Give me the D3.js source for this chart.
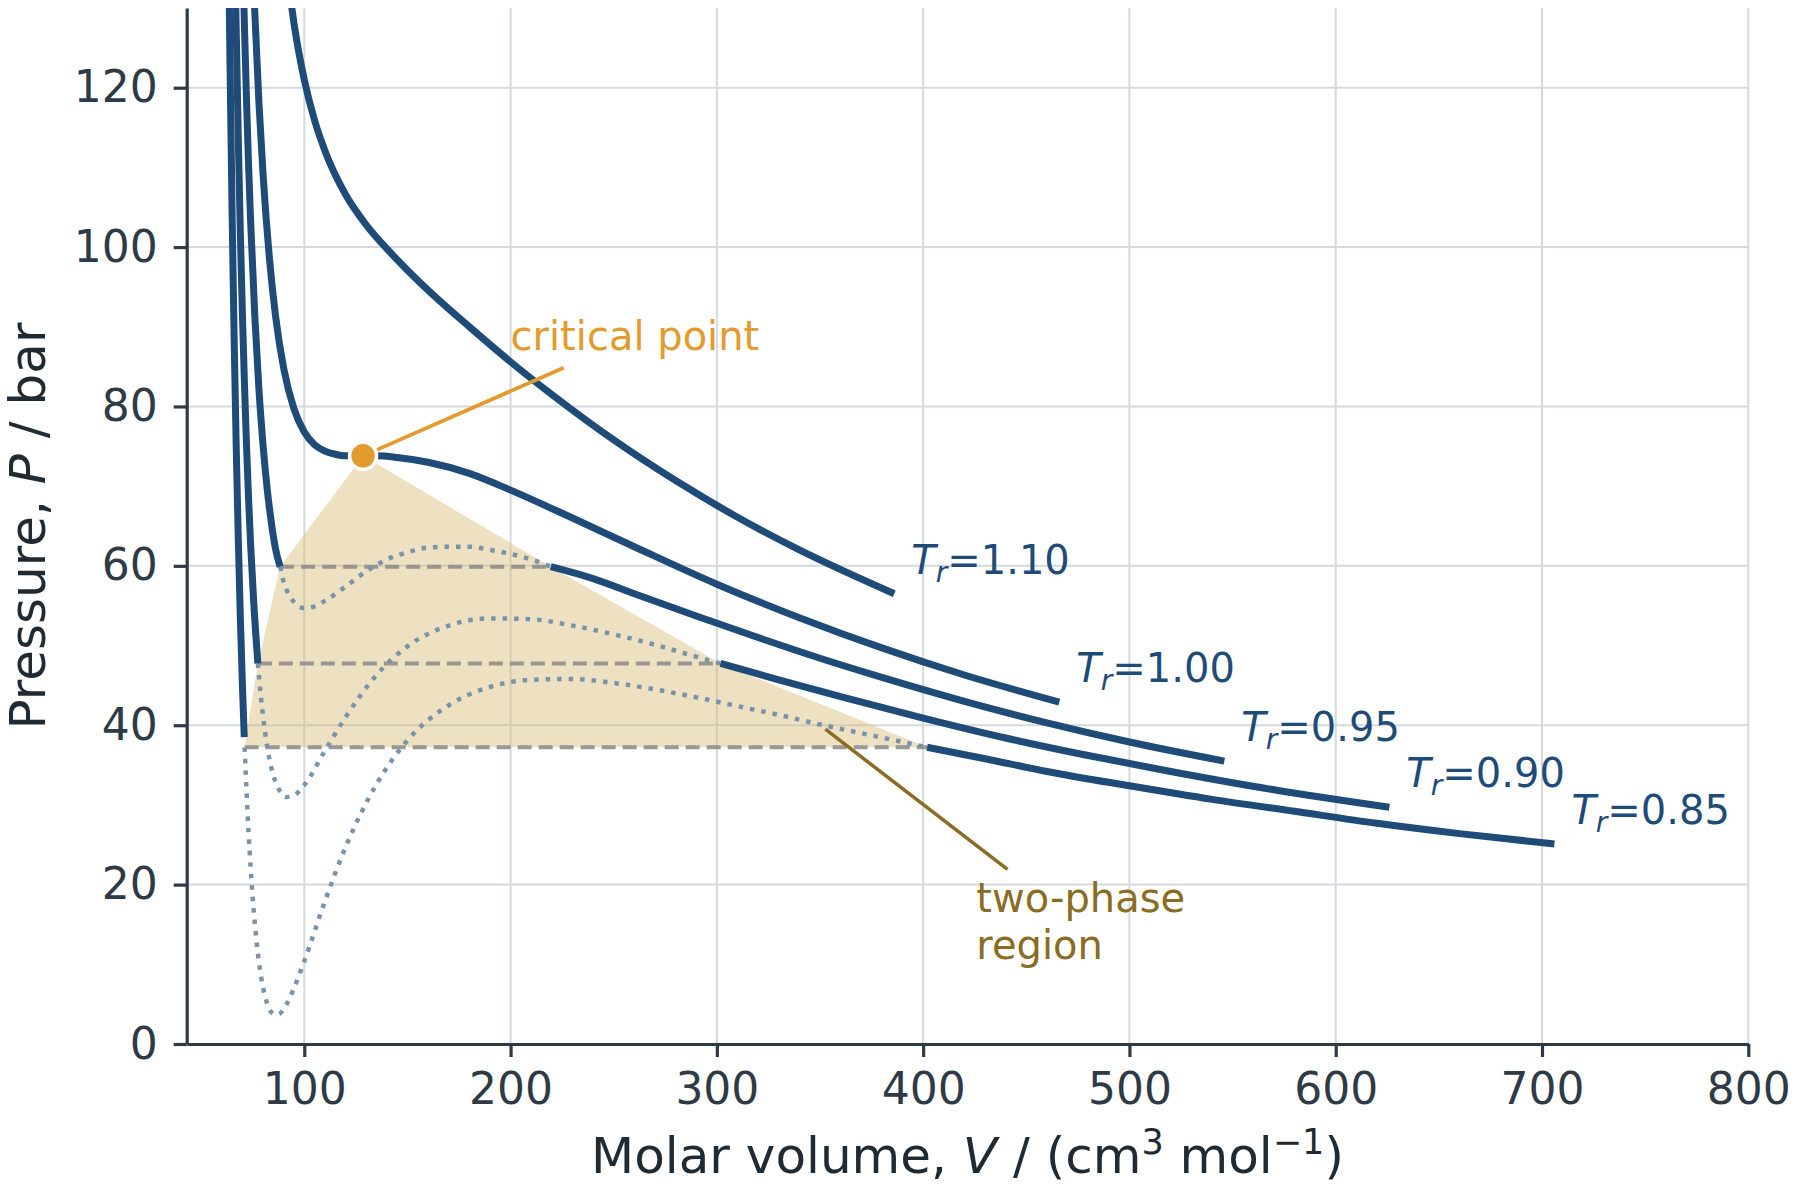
<!DOCTYPE html>
<html>
<head>
<meta charset="utf-8">
<script src="https://cdn.jsdelivr.net/npm/d3@7/dist/d3.min.js"></script>
<style>
  html, body { margin: 0; padding: 0; background: #fff; }
  svg { display: block; font-family: "DejaVu Sans", sans-serif; }
</style>
</head>
<body>
<div id="app"></div>
<script>
// 等温线温度 (reduced temperature) 与标签
const tempLabels = ['1.10', '1.00', '0.95', '0.90', '0.85'];

// 超临界 / 临界等温线 (V in cm3/mol, P in bar)
const v110 = [90, 95, 100, 105, 110, 120, 130, 140, 150, 165, 180, 200, 220, 250, 280, 310, 340, 386];
const p110 = [138.5, 128.1, 121.0, 115.9, 112.1, 106.6, 102.8, 99.8, 97.1, 93.4, 90.0, 85.6, 81.5, 75.8, 70.7, 66.1, 62.0, 56.5];

const v100 = [75, 76, 78, 80, 83, 86, 90, 95, 100, 105, 110, 115, 120, 128.5, 135, 145, 160, 180, 200, 230, 260, 300, 340, 380, 420, 466];
const p100 = [136.2, 129.5, 118.2, 109.2, 98.9, 91.5, 84.8, 79.7, 76.8, 75.2, 74.4, 74.0, 73.8, 73.8, 73.8, 73.6, 73.0, 71.6, 69.5, 66.0, 62.4, 57.7, 53.5, 49.7, 46.3, 42.9];

// 亚临界等温线: 液相支, van der Waals 回路, 气相支
const liqV095 = [70.5, 71, 72, 73, 74, 76, 78, 80, 82, 84, 86, 88.3];
const liqP095 = [132.8, 127.7, 118.4, 110.3, 103.2, 91.4, 82.2, 75.2, 69.7, 65.5, 62.2, 59.9];
const loopV095 = [88.3, 90, 93, 96, 100, 105, 110, 120, 130, 140, 150, 160, 170, 180, 190, 200, 210, 219.5];
const loopP095 = [59.9, 58.0, 56.2, 55.2, 54.7, 54.9, 55.6, 57.4, 59.3, 60.8, 61.7, 62.3, 62.4, 62.4, 62.0, 61.5, 60.8, 59.9];
const vapV095 = [219.5, 240, 260, 290, 320, 350, 380, 420, 460, 500, 546];
const vapP095 = [59.9, 58.4, 56.5, 53.7, 51.0, 48.4, 46.0, 43.0, 40.3, 37.9, 35.5];

const liqV090 = [66.5, 67, 68, 69, 70, 71, 72, 73, 74, 75.5, 77.5];
const liqP090 = [134.9, 127.3, 113.7, 101.8, 91.6, 82.8, 75.1, 68.4, 62.6, 55.4, 47.75];
const loopV090 = [77.5, 79, 81, 83, 85, 88, 91, 95, 100, 110, 120, 135, 150, 170, 190, 210, 230, 250, 270, 290, 301.8];
const loopP090 = [47.75, 43.5, 39.1, 35.9, 33.7, 31.8, 31.0, 31.2, 32.5, 36.8, 41.0, 46.3, 49.9, 52.5, 53.4, 53.3, 52.5, 51.4, 50.1, 48.6, 47.75];
const vapV090 = [301.8, 330, 360, 400, 440, 480, 520, 570, 626];
const vapP090 = [47.75, 45.7, 43.6, 40.9, 38.4, 36.2, 34.2, 31.9, 29.7];

const liqV085 = [63.5, 64, 65, 66, 67, 68, 69, 70, 70.9];
const liqP085 = [133.4, 122.9, 104.3, 88.5, 75.0, 63.5, 53.5, 45.1, 38.5];
const loopV085 = [71.1, 72, 73, 74, 75, 76, 77, 78, 80, 82, 84, 86, 88, 91, 95, 100, 110, 120, 135, 150, 170, 190, 210, 230, 250, 270, 290, 310, 330, 350, 370, 390, 401.9];
const loopP085 = [37.23, 31.7, 26.5, 22.1, 18.3, 15.2, 12.5, 10.3, 7.1, 5.1, 4.0, 3.7, 3.8, 4.8, 7.0, 10.4, 17.9, 24.7, 32.6, 38.1, 42.5, 44.8, 45.7, 45.8, 45.3, 44.5, 43.5, 42.4, 41.3, 40.1, 39.0, 37.9, 37.23];
const vapV085 = [401.9, 430, 460, 500, 540, 580, 620, 660, 706];
const vapP085 = [37.23, 35.8, 34.2, 32.4, 30.7, 29.2, 27.7, 26.4, 25.1];

// 饱和压力与两相边界 (Tr = 0.95, 0.90, 0.85)
const pSat = [59.9, 47.75, 37.23];
const vLiqSat = [88.3, 77.5, 71.1];
const vVapSat = [219.5, 301.8, 401.9];

// 临界点
const critical = [128.5, 73.8];

// 坐标轴刻度
const xTicks = [100, 200, 300, 400, 500, 600, 700, 800];
const yTicks = [0, 20, 40, 60, 80, 100, 120];

// 画布
const width = 1800, height = 1193;
const plot = { left: 186.7, right: 1748.3, top: 8, bottom: 1044 };

const blue = '#1f4b78';
const axisColor = '#2e3a46';
const orange = '#e39b2e';
const olive = '#8a6c22';

const svg = d3.select('#app').append('svg')
  .attr('width', width)
  .attr('height', height);

const x = d3.scaleLinear().domain([43, 800]).range([plot.left, plot.right]);
const y = d3.scaleLinear().domain([0, 130]).range([plot.bottom, plot.top]);

const zip = (vs, ps) => vs.map((v, i) => [v, ps[i]]);
const line = d3.line()
  .x(d => x(d[0]))
  .y(d => y(d[1]))
  .curve(d3.curveMonotoneX);

svg.append('clipPath').attr('id', 'clip')
  .append('rect')
  .attr('x', plot.left).attr('y', plot.top)
  .attr('width', plot.right - plot.left)
  .attr('height', plot.bottom - plot.top);

// 网格
const grid = svg.append('g');
grid.selectAll('.gx').data(xTicks).enter().append('line')
  .attr('x1', d => x(d)).attr('x2', d => x(d))
  .attr('y1', plot.top).attr('y2', plot.bottom)
  .attr('stroke', '#d3d9de').attr('stroke-width', 2);
grid.selectAll('.gy').data(yTicks).enter().append('line')
  .attr('x1', plot.left).attr('x2', plot.right)
  .attr('y1', d => y(d)).attr('y2', d => y(d))
  .attr('stroke', '#d3d9de').attr('stroke-width', 2);

const g = svg.append('g').attr('clip-path', 'url(#clip)');

// 两相区阴影
const region = [critical]
  .concat(vVapSat.map((v, i) => [v, pSat[i]]))
  .concat(vLiqSat.map((v, i) => [v, pSat[i]]).reverse());
g.append('path')
  .attr('d', d3.line().x(d => x(d[0])).y(d => y(d[1]))(region) + 'Z')
  .attr('fill', '#d8bd78')
  .attr('fill-opacity', 0.45);

// Maxwell 等压线
g.selectAll('.tie').data(pSat).enter().append('line')
  .attr('x1', (d, i) => x(vLiqSat[i]))
  .attr('x2', (d, i) => x(vVapSat[i]))
  .attr('y1', d => y(d)).attr('y2', d => y(d))
  .attr('stroke', '#8e8e8e')
  .attr('stroke-opacity', 0.9)
  .attr('stroke-width', 4)
  .attr('stroke-dasharray', '14 7');

// van der Waals 回路 (虚线点)
const loops = [zip(loopV095, loopP095), zip(loopV090, loopP090), zip(loopV085, loopP085)];
g.selectAll('.loop').data(loops).enter().append('path')
  .attr('d', d => line(d))
  .attr('fill', 'none')
  .attr('stroke', '#7a93aa')
  .attr('stroke-width', 4.5)
  .attr('stroke-dasharray', '4.5 7');

// 实线等温线
const solids = [
  zip(v110, p110),
  zip(v100, p100),
  zip(liqV095, liqP095), zip(vapV095, vapP095),
  zip(liqV090, liqP090), zip(vapV090, vapP090),
  zip(liqV085, liqP085), zip(vapV085, vapP085)
];
g.selectAll('.iso').data(solids).enter().append('path')
  .attr('d', d => line(d))
  .attr('fill', 'none')
  .attr('stroke', blue)
  .attr('stroke-width', 7);

// 等温线标签 (位于每条曲线末端)
const ends = [
  [v110, p110], [v100, p100], [vapV095, vapP095], [vapV090, vapP090], [vapV085, vapP085]
].map(([vs, ps]) => [vs[vs.length - 1], ps[ps.length - 1]]);

ends.forEach((e, i) => {
  const t = svg.append('text')
    .attr('x', x(e[0]) + 17)
    .attr('y', y(e[1]) - 20)
    .attr('fill', blue)
    .attr('font-size', 40);
  t.append('tspan').attr('font-style', 'italic').text('T');
  t.append('tspan').attr('font-style', 'italic').attr('font-size', 28).attr('dy', 8).text('r');
  t.append('tspan').attr('dy', -8).text('=' + tempLabels[i]);
});

// 临界点标注
svg.append('line')
  .attr('x1', x(critical[0])).attr('y1', y(critical[1]))
  .attr('x2', x(225.8)).attr('y2', y(84.85))
  .attr('stroke', orange).attr('stroke-width', 3.8);
svg.append('circle')
  .attr('cx', x(critical[0])).attr('cy', y(critical[1]))
  .attr('r', 13.5)
  .attr('fill', orange)
  .attr('stroke', '#fff')
  .attr('stroke-width', 3.5);
svg.append('text')
  .attr('x', x(200)).attr('y', y(87.1))
  .attr('fill', orange)
  .attr('font-size', 40)
  .text('critical point');

// 两相区标注
svg.append('line')
  .attr('x1', x(352.6)).attr('y1', y(39.5))
  .attr('x2', x(440.9)).attr('y2', y(21.9))
  .attr('stroke', olive).attr('stroke-width', 3.5);
const tp = svg.append('text')
  .attr('x', x(425.8)).attr('y', y(16.6))
  .attr('fill', olive)
  .attr('font-size', 40);
tp.append('tspan').attr('x', x(425.8)).text('two-phase');
tp.append('tspan').attr('x', x(425.8)).attr('dy', 47).text('region');

// 坐标轴
const xAxis = d3.axisBottom(x).tickValues(xTicks).tickSize(13).tickPadding(16).tickSizeOuter(0);
const yAxis = d3.axisLeft(y).tickValues(yTicks).tickSize(13).tickPadding(16).tickSizeOuter(0);

const gx = svg.append('g')
  .attr('transform', `translate(0, ${plot.bottom})`)
  .call(xAxis);
const gy = svg.append('g')
  .attr('transform', `translate(${plot.left}, 0)`)
  .call(yAxis);

[gx, gy].forEach(a => {
  a.select('.domain').attr('stroke', axisColor).attr('stroke-width', 3.2);
  a.selectAll('.tick line').attr('stroke', axisColor).attr('stroke-width', 3.2);
  a.selectAll('.tick text')
    .attr('fill', axisColor)
    .attr('font-size', 44)
    .attr('font-family', '"DejaVu Sans", sans-serif');
});

// 轴标题
const xl = svg.append('text')
  .attr('x', (plot.left + plot.right) / 2)
  .attr('y', 1173)
  .attr('text-anchor', 'middle')
  .attr('fill', '#1f2a33')
  .attr('font-size', 50);
xl.append('tspan').text('Molar volume, ');
xl.append('tspan').attr('font-style', 'italic').text('V');
xl.append('tspan').text(' / (cm');
xl.append('tspan').attr('font-size', 35).attr('dy', -19).text('3');
xl.append('tspan').attr('dy', 19).text(' mol');
xl.append('tspan').attr('font-size', 35).attr('dy', -19).text('−1');
xl.append('tspan').attr('dy', 19).text(')');

const yl = svg.append('text')
  .attr('transform', `translate(45, ${(plot.top + plot.bottom) / 2}) rotate(-90)`)
  .attr('text-anchor', 'middle')
  .attr('fill', '#1f2a33')
  .attr('font-size', 50);
yl.append('tspan').text('Pressure, ');
yl.append('tspan').attr('font-style', 'italic').text('P');
yl.append('tspan').text(' / bar');
</script>
</body>
</html>
